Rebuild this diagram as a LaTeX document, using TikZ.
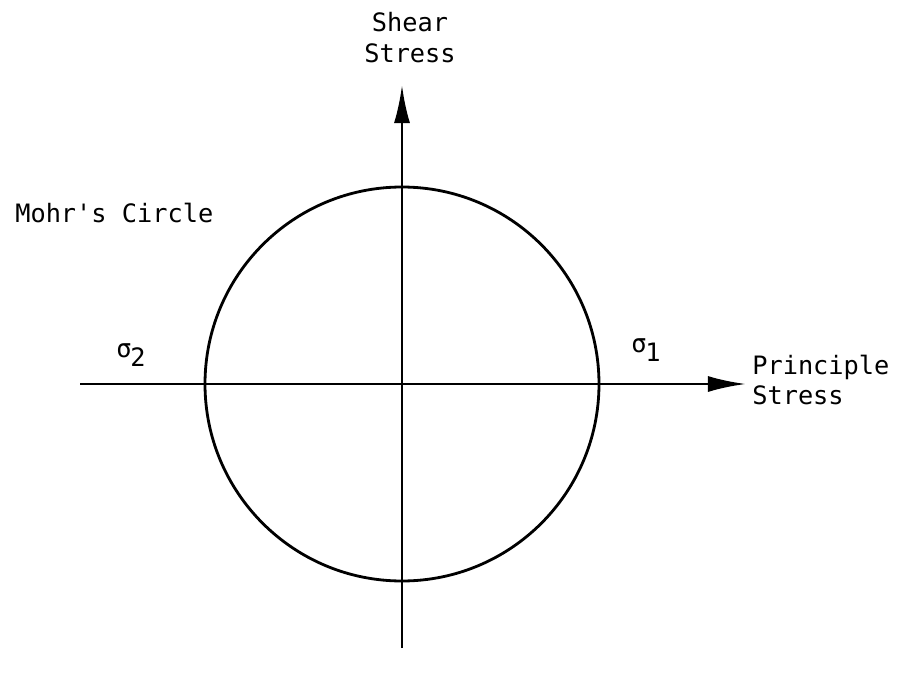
\documentclass[tikz,border=0pt]{standalone}
\usepackage{fontspec}
\setmonofont{DejaVu Sans Mono}
\usetikzlibrary{arrows.meta,positioning}

\begin{document}
\begin{tikzpicture}[
    x=0.025cm, y=-0.025cm,
    every node/.style={font=\ttfamily\fontsize{18}{22}\selectfont},
    axis/.style={line width=2pt, -{Latex[length=0.95cm, width=0.4cm]}},
    label/.style={inner sep=0pt, align=left},
]
\useasboundingbox (0,0) rectangle (909,677);

% Axis end points
\coordinate (centre) at (402, 384);
\coordinate (xstart) at (80, 384);
\coordinate (xend) at (746, 384);
\coordinate (ystart) at (402, 648);
\coordinate (yend) at (402, 85);

% Mohr's circle
\draw[line width=2pt] (centre) circle[radius=197];

% Axes
\draw[axis] (xstart) -- (xend);
\draw[axis] (ystart) -- (yend);

% Axis labels
\node[label, align=center] (shear) at (410, 38) {Shear\\Stress};
\node[label, anchor=west] (principle) at (752, 380) {Principle\\Stress};
\node[label, anchor=west] (mohr) at (15, 213) {Mohr's Circle};

% Principal stresses
\node[label] (sigmatwo) at (131, 355) {σ\raisebox{-0.6ex}{\kern-1pt 2}};
\node[label] (sigmaone) at (646, 350) {σ\raisebox{-0.6ex}{\kern-1pt 1}};

\end{tikzpicture}
\end{document}
